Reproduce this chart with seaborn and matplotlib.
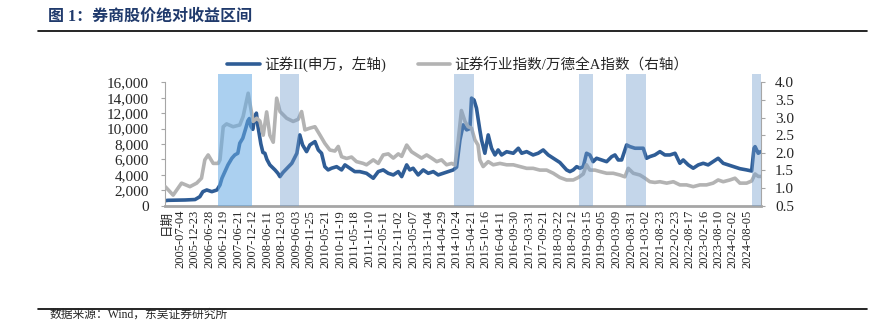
import matplotlib
matplotlib.use("Agg")
import matplotlib.pyplot as plt
from matplotlib.lines import Line2D
from matplotlib.ticker import FuncFormatter, MultipleLocator
import pandas as pd
import seaborn as sns

sns.set_style("white")
plt.rcParams["font.family"] = ["Liberation Serif", "Noto Sans CJK SC"]
plt.rcParams["axes.unicode_minus"] = False

# 证券II(申万) index level, left axis
sec_dates = [
    "2005-01-04", "2005-02-07", "2005-05-02", "2005-09-03", "2006-01-05", "2006-03-05",
    "2006-04-11", "2006-05-29", "2006-07-30", "2006-10-01", "2006-11-07", "2006-12-01",
    "2007-01-07", "2007-02-13", "2007-04-02", "2007-05-08", "2007-06-14", "2007-07-08",
    "2007-08-14", "2007-09-20", "2007-10-15", "2007-11-03", "2007-11-21", "2007-12-15",
    "2008-01-10", "2008-01-28", "2008-02-16", "2008-03-23", "2008-04-17", "2008-05-11",
    "2008-06-05", "2008-07-11", "2008-09-12", "2008-10-18", "2008-11-12", "2008-12-19",
    "2009-02-07", "2009-04-07", "2009-06-08", "2009-07-14", "2009-08-17", "2009-10-05",
    "2009-11-15", "2010-01-16", "2010-02-26", "2010-04-07", "2010-05-17", "2010-06-27",
    "2010-08-08", "2010-10-09", "2010-12-09", "2011-01-19", "2011-03-19", "2011-05-20",
    "2011-07-20", "2011-10-11", "2012-01-02", "2012-03-03", "2012-05-03", "2012-07-04",
    "2012-09-04", "2012-11-04", "2012-12-16", "2013-02-15", "2013-03-25", "2013-05-05",
    "2013-07-06", "2013-09-06", "2013-11-07", "2014-01-08", "2014-03-09", "2014-05-09",
    "2014-07-09", "2014-09-10", "2014-10-21", "2014-12-01", "2015-01-10", "2015-02-21",
    "2015-04-02", "2015-04-22", "2015-05-23", "2015-06-22", "2015-08-02", "2015-08-23",
    "2015-10-03", "2015-11-13", "2015-12-24", "2016-02-04", "2016-03-14", "2016-04-25",
    "2016-06-26", "2016-09-16", "2016-11-17", "2016-12-28", "2017-02-27", "2017-05-17",
    "2017-07-18", "2017-09-18", "2017-11-19", "2018-01-20", "2018-04-11", "2018-07-02",
    "2018-08-12", "2018-09-22", "2018-11-03", "2018-12-13", "2019-01-23", "2019-03-04",
    "2019-04-14", "2019-05-24", "2019-07-05", "2019-09-05", "2019-11-06", "2020-01-07",
    "2020-02-16", "2020-03-27", "2020-05-08", "2020-07-08", "2020-08-18", "2020-10-19",
    "2020-12-19", "2021-01-28", "2021-03-10", "2021-04-19", "2021-06-20", "2021-08-21",
    "2021-10-21", "2021-12-22", "2022-02-23", "2022-04-23", "2022-06-03", "2022-08-04",
    "2022-10-04", "2022-12-05", "2023-02-04", "2023-04-05", "2023-06-05", "2023-08-06",
    "2023-10-07", "2023-12-07", "2024-02-08", "2024-04-29", "2024-07-20", "2024-09-20",
    "2024-10-19", "2024-11-01", "2024-12-10", "2025-01-07",
]
sec_values = [
    650, 700, 720, 740, 800, 1170,
    1820, 2040, 1820, 2040, 2690, 3560,
    4420, 5290, 6150, 6580, 6800, 8100,
    8750, 10050, 11000, 11300, 10300, 9900,
    11500, 12000, 10300, 8000, 6900, 6800,
    6000, 5290, 4640, 4200, 3770, 4300,
    4860, 5500, 6800, 9180, 7880, 7010,
    7880, 8310, 7230, 6800, 5060, 4640,
    4860, 5060, 4640, 5290, 4860, 4420,
    4420, 4200, 3560, 4420, 4640, 4200,
    3990, 4420, 3770, 5290, 4640, 4860,
    3990, 4640, 4200, 4420, 3990, 4200,
    4420, 4640, 5000, 8530, 10480, 9830,
    10000, 13950, 13700, 12650, 9830, 8530,
    6800, 9180, 7450, 6580, 7230, 6580,
    7000, 6800, 7450, 6800, 7010, 6580,
    6800, 7230, 6580, 6150, 5600, 4640,
    4420, 4640, 5060, 4860, 5060, 6800,
    6580, 5710, 6150, 5930, 5710, 6360,
    6580, 5930, 5930, 7880, 7660, 7450,
    7450, 7450, 6150, 6360, 6580, 7010,
    6580, 6580, 6800, 5500, 5930, 5290,
    4860, 5290, 5500, 5290, 5710, 6150,
    5500, 5290, 5060, 4800, 4640, 4500,
    7450, 7660, 6800, 7000,
]

# 证券行业指数/万德全A指数, right axis
ratio_dates = [
    "2005-01-04", "2005-04-11", "2005-07-23", "2005-11-03", "2006-01-25", "2006-03-25",
    "2006-05-05", "2006-06-15", "2006-08-16", "2006-10-16", "2006-11-07", "2006-12-17",
    "2007-01-27", "2007-04-17", "2007-07-08", "2007-08-18", "2007-10-19", "2007-11-09",
    "2007-12-19", "2008-02-01", "2008-03-11", "2008-04-21", "2008-06-02", "2008-07-11",
    "2008-08-22", "2008-10-03", "2008-11-13", "2009-02-03", "2009-04-23", "2009-06-24",
    "2009-08-05", "2009-09-15", "2009-11-15", "2010-01-16", "2010-03-17", "2010-05-17",
    "2010-07-18", "2010-09-18", "2010-10-29", "2010-12-09", "2011-02-09", "2011-04-10",
    "2011-06-10", "2011-08-31", "2011-10-11", "2012-01-02", "2012-03-03", "2012-05-03",
    "2012-07-04", "2012-09-04", "2012-11-04", "2012-12-16", "2013-02-15", "2013-04-16",
    "2013-06-16", "2013-08-17", "2013-10-18", "2013-12-18", "2014-02-19", "2014-04-19",
    "2014-06-20", "2014-08-21", "2014-10-01", "2014-11-10", "2014-12-19", "2015-02-01",
    "2015-03-11", "2015-04-22", "2015-06-02", "2015-07-11", "2015-08-02", "2015-09-12",
    "2015-11-13", "2016-01-14", "2016-04-05", "2016-06-26", "2016-09-16", "2016-12-07",
    "2017-02-27", "2017-05-17", "2017-08-08", "2017-10-30", "2018-01-20", "2018-04-11",
    "2018-07-02", "2018-09-22", "2018-11-23", "2019-01-23", "2019-03-04", "2019-04-14",
    "2019-06-14", "2019-08-14", "2019-11-06", "2020-01-26", "2020-04-17", "2020-06-17",
    "2020-07-28", "2020-09-28", "2020-12-19", "2021-02-19", "2021-04-19", "2021-06-20",
    "2021-08-21", "2021-11-12", "2022-02-02", "2022-04-23", "2022-07-14", "2022-10-04",
    "2022-12-25", "2023-03-16", "2023-06-05", "2023-08-06", "2023-10-07", "2023-12-28",
    "2024-02-29", "2024-04-29", "2024-07-20", "2024-09-20", "2024-11-01", "2024-12-10",
    "2025-01-07",
]
ratio_values = [
    1.04, 0.80, 1.14, 1.04, 1.14, 1.28,
    1.80, 1.94, 1.70, 1.70, 1.80, 2.74,
    2.82, 2.74, 2.79, 3.03, 3.69, 3.41,
    2.89, 2.98, 2.90, 2.50, 3.16, 2.50,
    2.30, 3.55, 3.17, 2.98, 2.89, 2.95,
    3.17, 2.65, 2.70, 2.74, 2.51, 2.27,
    2.08, 2.05, 2.18, 1.89, 1.84, 1.88,
    1.75, 1.70, 1.66, 1.80, 1.70, 1.94,
    1.97, 1.85, 1.97, 1.90, 2.22, 2.03,
    1.94, 1.85, 1.94, 1.85, 1.75, 1.80,
    1.66, 1.70, 1.65, 2.35, 3.20, 2.89,
    2.74, 2.70, 2.37, 2.22, 1.80, 1.61,
    1.75, 1.66, 1.70, 1.66, 1.66, 1.61,
    1.56, 1.56, 1.51, 1.51, 1.42, 1.30,
    1.23, 1.23, 1.30, 1.40, 1.66, 1.51,
    1.51, 1.47, 1.42, 1.42, 1.37, 1.32,
    1.56, 1.42, 1.37, 1.28, 1.18, 1.16,
    1.18, 1.14, 1.18, 1.09, 1.09, 1.04,
    1.09, 1.09, 1.14, 1.23, 1.18, 1.23,
    1.28, 1.14, 1.14, 1.20, 1.40, 1.33,
    1.33,
]

# Absolute-return periods for broker stocks
band_starts = ["2006-10-16", "2008-11-13", "2014-09-22", "2018-12-05", "2020-06-30", "2024-09-24"]
band_ends = ["2007-12-07", "2009-07-02", "2015-05-20", "2019-05-28", "2021-03-01", "2025-01-13"]

tick_dates = [
    "2005-01-20", "2005-07-04", "2005-12-23", "2006-06-28", "2006-12-19", "2007-06-21",
    "2007-12-12", "2008-06-11", "2008-12-03", "2009-06-03", "2009-11-25", "2010-05-21",
    "2010-11-19", "2011-05-18", "2011-11-10", "2012-05-11", "2012-11-02", "2013-05-07",
    "2013-11-04", "2014-04-29", "2014-10-24", "2015-04-21", "2015-10-16", "2016-04-11",
    "2016-09-30", "2017-03-31", "2017-09-21", "2018-03-22", "2018-09-12", "2019-03-15",
    "2019-09-05", "2020-03-09", "2020-08-31", "2021-03-02", "2021-08-23", "2022-02-23",
    "2022-08-17", "2023-02-16", "2023-08-10", "2024-02-02", "2024-08-05",
]
tick_labels = ["日期"] + tick_dates[1:]

BLUE = "#2f5d96"
GRAY = "#b3b3b3"
AXIS_GRAY = "#a6a6a6"
W, H = 895, 322

fig = plt.figure(figsize=(W / 100, H / 100), dpi=100)
ax = fig.add_axes([165 / W, 1 - 205.7 / H, (761 - 165) / W, (205.7 - 82.3) / H])
ax2 = ax.twinx()

sec = pd.DataFrame({"date": pd.to_datetime(sec_dates), "value": sec_values})
ratio = pd.DataFrame({"date": pd.to_datetime(ratio_dates), "value": ratio_values})
sns.lineplot(data=sec, x="date", y="value", ax=ax, color=BLUE, lw=2.6, legend=False)
sns.lineplot(data=ratio, x="date", y="value", ax=ax2, color=GRAY, lw=2.6, legend=False)

for i, (s, e) in enumerate(zip(band_starts, band_ends)):
    if i == 0:
        col, alpha = "#66aae4", 0.55
    else:
        col, alpha = "#709ccd", 0.41
    ax2.axvspan(pd.Timestamp(s), pd.Timestamp(e), ymin=0, ymax=1.07, color=col,
                alpha=alpha, lw=0, zorder=5, clip_on=False)

ax.set_xlim(pd.Timestamp("2005-01-01"), pd.Timestamp("2025-01-13"))
ax.set_ylim(0, 16000)
ax2.set_ylim(0.5, 4.0)
ax.yaxis.set_major_locator(MultipleLocator(2000))
ax.yaxis.set_major_formatter(FuncFormatter(lambda v, p: f"{int(v):,}"))
ax2.yaxis.set_major_locator(MultipleLocator(0.5))
ax2.yaxis.set_major_formatter(FuncFormatter(lambda v, p: f"{v:.1f}"))

ax.set_xticks(pd.to_datetime(tick_dates))
ax.set_xticklabels(tick_labels, rotation=90, fontsize=9, va="top", ha="center")
ax.tick_params(axis="x", length=0, pad=3)
ax.tick_params(axis="y", length=3, width=0.8, color=AXIS_GRAY, pad=8.5, labelsize=11)
ax2.tick_params(axis="y", length=3, width=0.8, color=AXIS_GRAY, pad=7, labelsize=11)
for a in (ax, ax2):
    a.set_xlabel("")
    a.set_ylabel("")
    a.grid(False)

ax.spines["top"].set_visible(False)
ax.spines["right"].set_visible(False)
ax.spines["left"].set_color(AXIS_GRAY)
ax.spines["left"].set_linewidth(0.8)
ax.spines["bottom"].set_color(AXIS_GRAY)
ax.spines["bottom"].set_linewidth(2.0)
ax.spines["bottom"].set_zorder(6)
for side in ("top", "left", "bottom"):
    ax2.spines[side].set_visible(False)
ax2.spines["right"].set_color(AXIS_GRAY)
ax2.spines["right"].set_linewidth(0.8)

handles = [Line2D([], [], color=BLUE, lw=2.6), Line2D([], [], color=GRAY, lw=2.6)]
labels = ["证券II(申万，左轴)", "证券行业指数/万德全A指数（右轴）"]
fig.legend(handles, labels, loc="center", bbox_to_anchor=(458 / W, 1 - 64.5 / H),
           ncol=2, frameon=False, fontsize=10.5, handlelength=2.2, handletextpad=0.3,
           columnspacing=2.2, borderaxespad=0, borderpad=0)

fig.text(48 / W, 1 - 17 / H, "图 1：券商股价绝对收益区间", fontsize=11.5, fontweight="bold",
         color="#203a6c", va="center", ha="left")
fig.add_artist(Line2D([38 / W, 867 / W], [1 - 31 / H] * 2, color="black", lw=1.2))
fig.add_artist(Line2D([38 / W, 867 / W], [1 - 309.3 / H] * 2, color="black", lw=1.2))
fig.text(50 / W, 1 - 321 / H, "数据来源：Wind，东吴证券研究所", fontsize=8.5,
         va="bottom", ha="left")

fig.savefig("out.png", dpi=100)
